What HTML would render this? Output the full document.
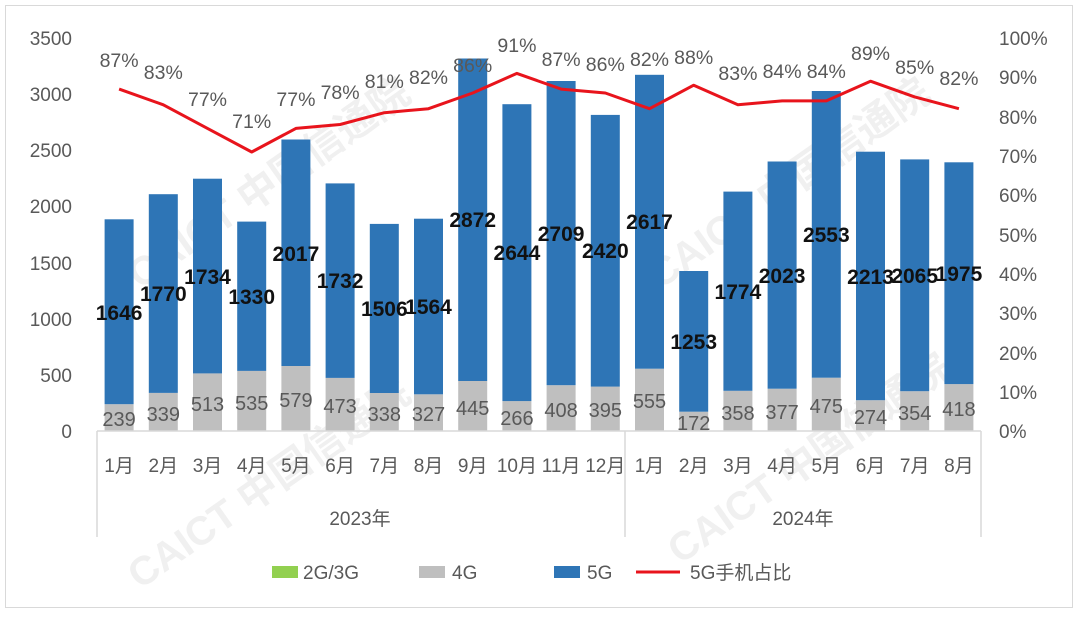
<!DOCTYPE html>
<html><head><meta charset="utf-8"><style>
html,body{margin:0;padding:0;background:#fff;}
svg{display:block;font-family:"Liberation Sans","Noto Sans CJK SC",sans-serif;}
.ax{font-size:19px;fill:#595959;}
.g{font-size:20px;fill:#595959;text-anchor:middle;}
.b{font-size:21px;font-weight:bold;fill:#111;text-anchor:middle;}
.p{font-size:19.5px;fill:#595959;text-anchor:middle;}
</style></head><body>
<svg width="1080" height="617" viewBox="0 0 1080 617">
<rect x="5.5" y="5.5" width="1067" height="602" fill="#fff" stroke="#d9d9d9"/>
<g fill="#e0e0e0" opacity="0.5" font-weight="bold" font-size="40">
<text transform="translate(140,290) rotate(-35)">CAICT 中国信通院</text>
<text transform="translate(660,290) rotate(-35)">CAICT 中国信通院</text>
<text transform="translate(140,590) rotate(-35)">CAICT 中国信通院</text>
<text transform="translate(680,565) rotate(-35)">CAICT 中国信通院</text>
</g>
<g class="ax" text-anchor="end">
<text x="72" y="438">0</text><text x="72" y="382">500</text><text x="72" y="326">1000</text><text x="72" y="270">1500</text><text x="72" y="213">2000</text><text x="72" y="157">2500</text><text x="72" y="101">3000</text><text x="72" y="45">3500</text>
</g>
<g class="ax">
<text x="999" y="438">0%</text><text x="999" y="399">10%</text><text x="999" y="360">20%</text><text x="999" y="320">30%</text><text x="999" y="281">40%</text><text x="999" y="242">50%</text><text x="999" y="202">60%</text><text x="999" y="163">70%</text><text x="999" y="124">80%</text><text x="999" y="84">90%</text><text x="999" y="45">100%</text>
</g>
<g fill="#bfbfbf">
<rect x="104.6" y="404.2" width="29" height="26.8"/><rect x="148.8" y="392.9" width="29" height="38.1"/><rect x="193" y="373.4" width="29" height="57.6"/><rect x="237.2" y="370.9" width="29" height="60.1"/><rect x="281.4" y="366" width="29" height="65"/><rect x="325.6" y="377.9" width="29" height="53.1"/><rect x="369.8" y="393" width="29" height="38"/><rect x="414" y="394.3" width="29" height="36.7"/><rect x="458.2" y="381" width="29" height="50"/><rect x="502.4" y="401.1" width="29" height="29.9"/><rect x="546.6" y="385.2" width="29" height="45.8"/><rect x="590.8" y="386.6" width="29" height="44.4"/><rect x="635" y="368.7" width="29" height="62.3"/><rect x="679.2" y="411.7" width="29" height="19.3"/><rect x="723.4" y="390.8" width="29" height="40.2"/><rect x="767.6" y="388.7" width="29" height="42.3"/><rect x="811.8" y="377.7" width="29" height="53.3"/><rect x="856" y="400.2" width="29" height="30.8"/><rect x="900.2" y="391.2" width="29" height="39.8"/><rect x="944.4" y="384.1" width="29" height="46.9"/>
</g>
<g fill="#2e75b6">
<rect x="104.6" y="219.3" width="29" height="184.9"/><rect x="148.8" y="194.2" width="29" height="198.7"/><rect x="193" y="178.7" width="29" height="194.7"/><rect x="237.2" y="221.6" width="29" height="149.3"/><rect x="281.4" y="139.5" width="29" height="226.5"/><rect x="325.6" y="183.4" width="29" height="194.5"/><rect x="369.8" y="223.9" width="29" height="169.1"/><rect x="414" y="218.7" width="29" height="175.6"/><rect x="458.2" y="58.5" width="29" height="322.5"/><rect x="502.4" y="104.2" width="29" height="296.9"/><rect x="546.6" y="81" width="29" height="304.2"/><rect x="590.8" y="114.9" width="29" height="271.7"/><rect x="635" y="74.8" width="29" height="293.9"/><rect x="679.2" y="271" width="29" height="140.7"/><rect x="723.4" y="191.6" width="29" height="199.2"/><rect x="767.6" y="161.5" width="29" height="227.2"/><rect x="811.8" y="91" width="29" height="286.7"/><rect x="856" y="151.7" width="29" height="248.5"/><rect x="900.2" y="159.4" width="29" height="231.8"/><rect x="944.4" y="162.3" width="29" height="221.8"/>
</g>
<g class="g">
<text x="119.1" y="426">239</text><text x="163.3" y="421">339</text><text x="207.5" y="411">513</text><text x="251.7" y="410">535</text><text x="295.9" y="407">579</text><text x="340.1" y="413">473</text><text x="384.3" y="421">338</text><text x="428.5" y="421">327</text><text x="472.7" y="415">445</text><text x="516.9" y="425">266</text><text x="561.1" y="417">408</text><text x="605.3" y="417">395</text><text x="649.5" y="408">555</text><text x="693.7" y="430">172</text><text x="737.9" y="420">358</text><text x="782.1" y="419">377</text><text x="826.3" y="413">475</text><text x="870.5" y="424">274</text><text x="914.7" y="420">354</text><text x="958.9" y="416">418</text>
</g>
<g class="b">
<text x="119.1" y="320">1646</text><text x="163.3" y="301">1770</text><text x="207.5" y="284">1734</text><text x="251.7" y="304">1330</text><text x="295.9" y="261">2017</text><text x="340.1" y="288">1732</text><text x="384.3" y="316">1506</text><text x="428.5" y="314">1564</text><text x="472.7" y="227">2872</text><text x="516.9" y="260">2644</text><text x="561.1" y="241">2709</text><text x="605.3" y="258">2420</text><text x="649.5" y="229">2617</text><text x="693.7" y="349">1253</text><text x="737.9" y="299">1774</text><text x="782.1" y="283">2023</text><text x="826.3" y="242">2553</text><text x="870.5" y="284">2213</text><text x="914.7" y="283">2065</text><text x="958.9" y="281">1975</text>
</g>
<polyline fill="none" stroke="#e8141c" stroke-width="3" stroke-linejoin="round" points="119.1,89.1 163.3,104.8 207.5,128.4 251.7,152 295.9,128.4 340.1,124.5 384.3,112.7 428.5,108.7 472.7,93 516.9,73.4 561.1,89.1 605.3,93 649.5,108.7 693.7,85.2 737.9,104.8 782.1,100.9 826.3,100.9 870.5,81.2 914.7,96.9 958.9,108.7"/>
<g class="p">
<text x="119.1" y="67">87%</text><text x="163.3" y="79">83%</text><text x="207.5" y="106">77%</text><text x="251.7" y="128">71%</text><text x="295.9" y="106">77%</text><text x="340.1" y="99">78%</text><text x="384.3" y="88">81%</text><text x="428.5" y="84">82%</text><text x="472.7" y="72">86%</text><text x="516.9" y="52">91%</text><text x="561.1" y="66">87%</text><text x="605.3" y="71">86%</text><text x="649.5" y="66">82%</text><text x="693.7" y="64">88%</text><text x="737.9" y="80">83%</text><text x="782.1" y="78">84%</text><text x="826.3" y="78">84%</text><text x="870.5" y="60">89%</text><text x="914.7" y="74">85%</text><text x="958.9" y="85">82%</text>
</g>
<g stroke="#d9d9d9" stroke-width="1.5">
<line x1="97" y1="431" x2="981" y2="431"/>
<line x1="97" y1="431" x2="97" y2="537"/><line x1="625" y1="431" x2="625" y2="537"/><line x1="981" y1="431" x2="981" y2="537"/>
</g>
<g class="ax" text-anchor="middle">
<text x="119.1" y="472">1月</text><text x="163.3" y="472">2月</text><text x="207.5" y="472">3月</text><text x="251.7" y="472">4月</text><text x="295.9" y="472">5月</text><text x="340.1" y="472">6月</text><text x="384.3" y="472">7月</text><text x="428.5" y="472">8月</text><text x="472.7" y="472">9月</text><text x="516.9" y="472">10月</text><text x="561.1" y="472">11月</text><text x="605.3" y="472">12月</text><text x="649.5" y="472">1月</text><text x="693.7" y="472">2月</text><text x="737.9" y="472">3月</text><text x="782.1" y="472">4月</text><text x="826.3" y="472">5月</text><text x="870.5" y="472">6月</text><text x="914.7" y="472">7月</text><text x="958.9" y="472">8月</text>
<text x="360" y="525">2023年</text><text x="803" y="525">2024年</text>
</g>
<rect x="272" y="566" width="26" height="12" fill="#92d050"/>
<text class="ax" x="303" y="579">2G/3G</text>
<rect x="419" y="566" width="26" height="12" fill="#bfbfbf"/>
<text class="ax" x="452" y="579">4G</text>
<rect x="554" y="566" width="26" height="12" fill="#2e75b6"/>
<text class="ax" x="587" y="579">5G</text>
<line x1="636" y1="572" x2="680" y2="572" stroke="#e8141c" stroke-width="3"/>
<text class="ax" x="690" y="579">5G手机占比</text>
</svg>
</body></html>
